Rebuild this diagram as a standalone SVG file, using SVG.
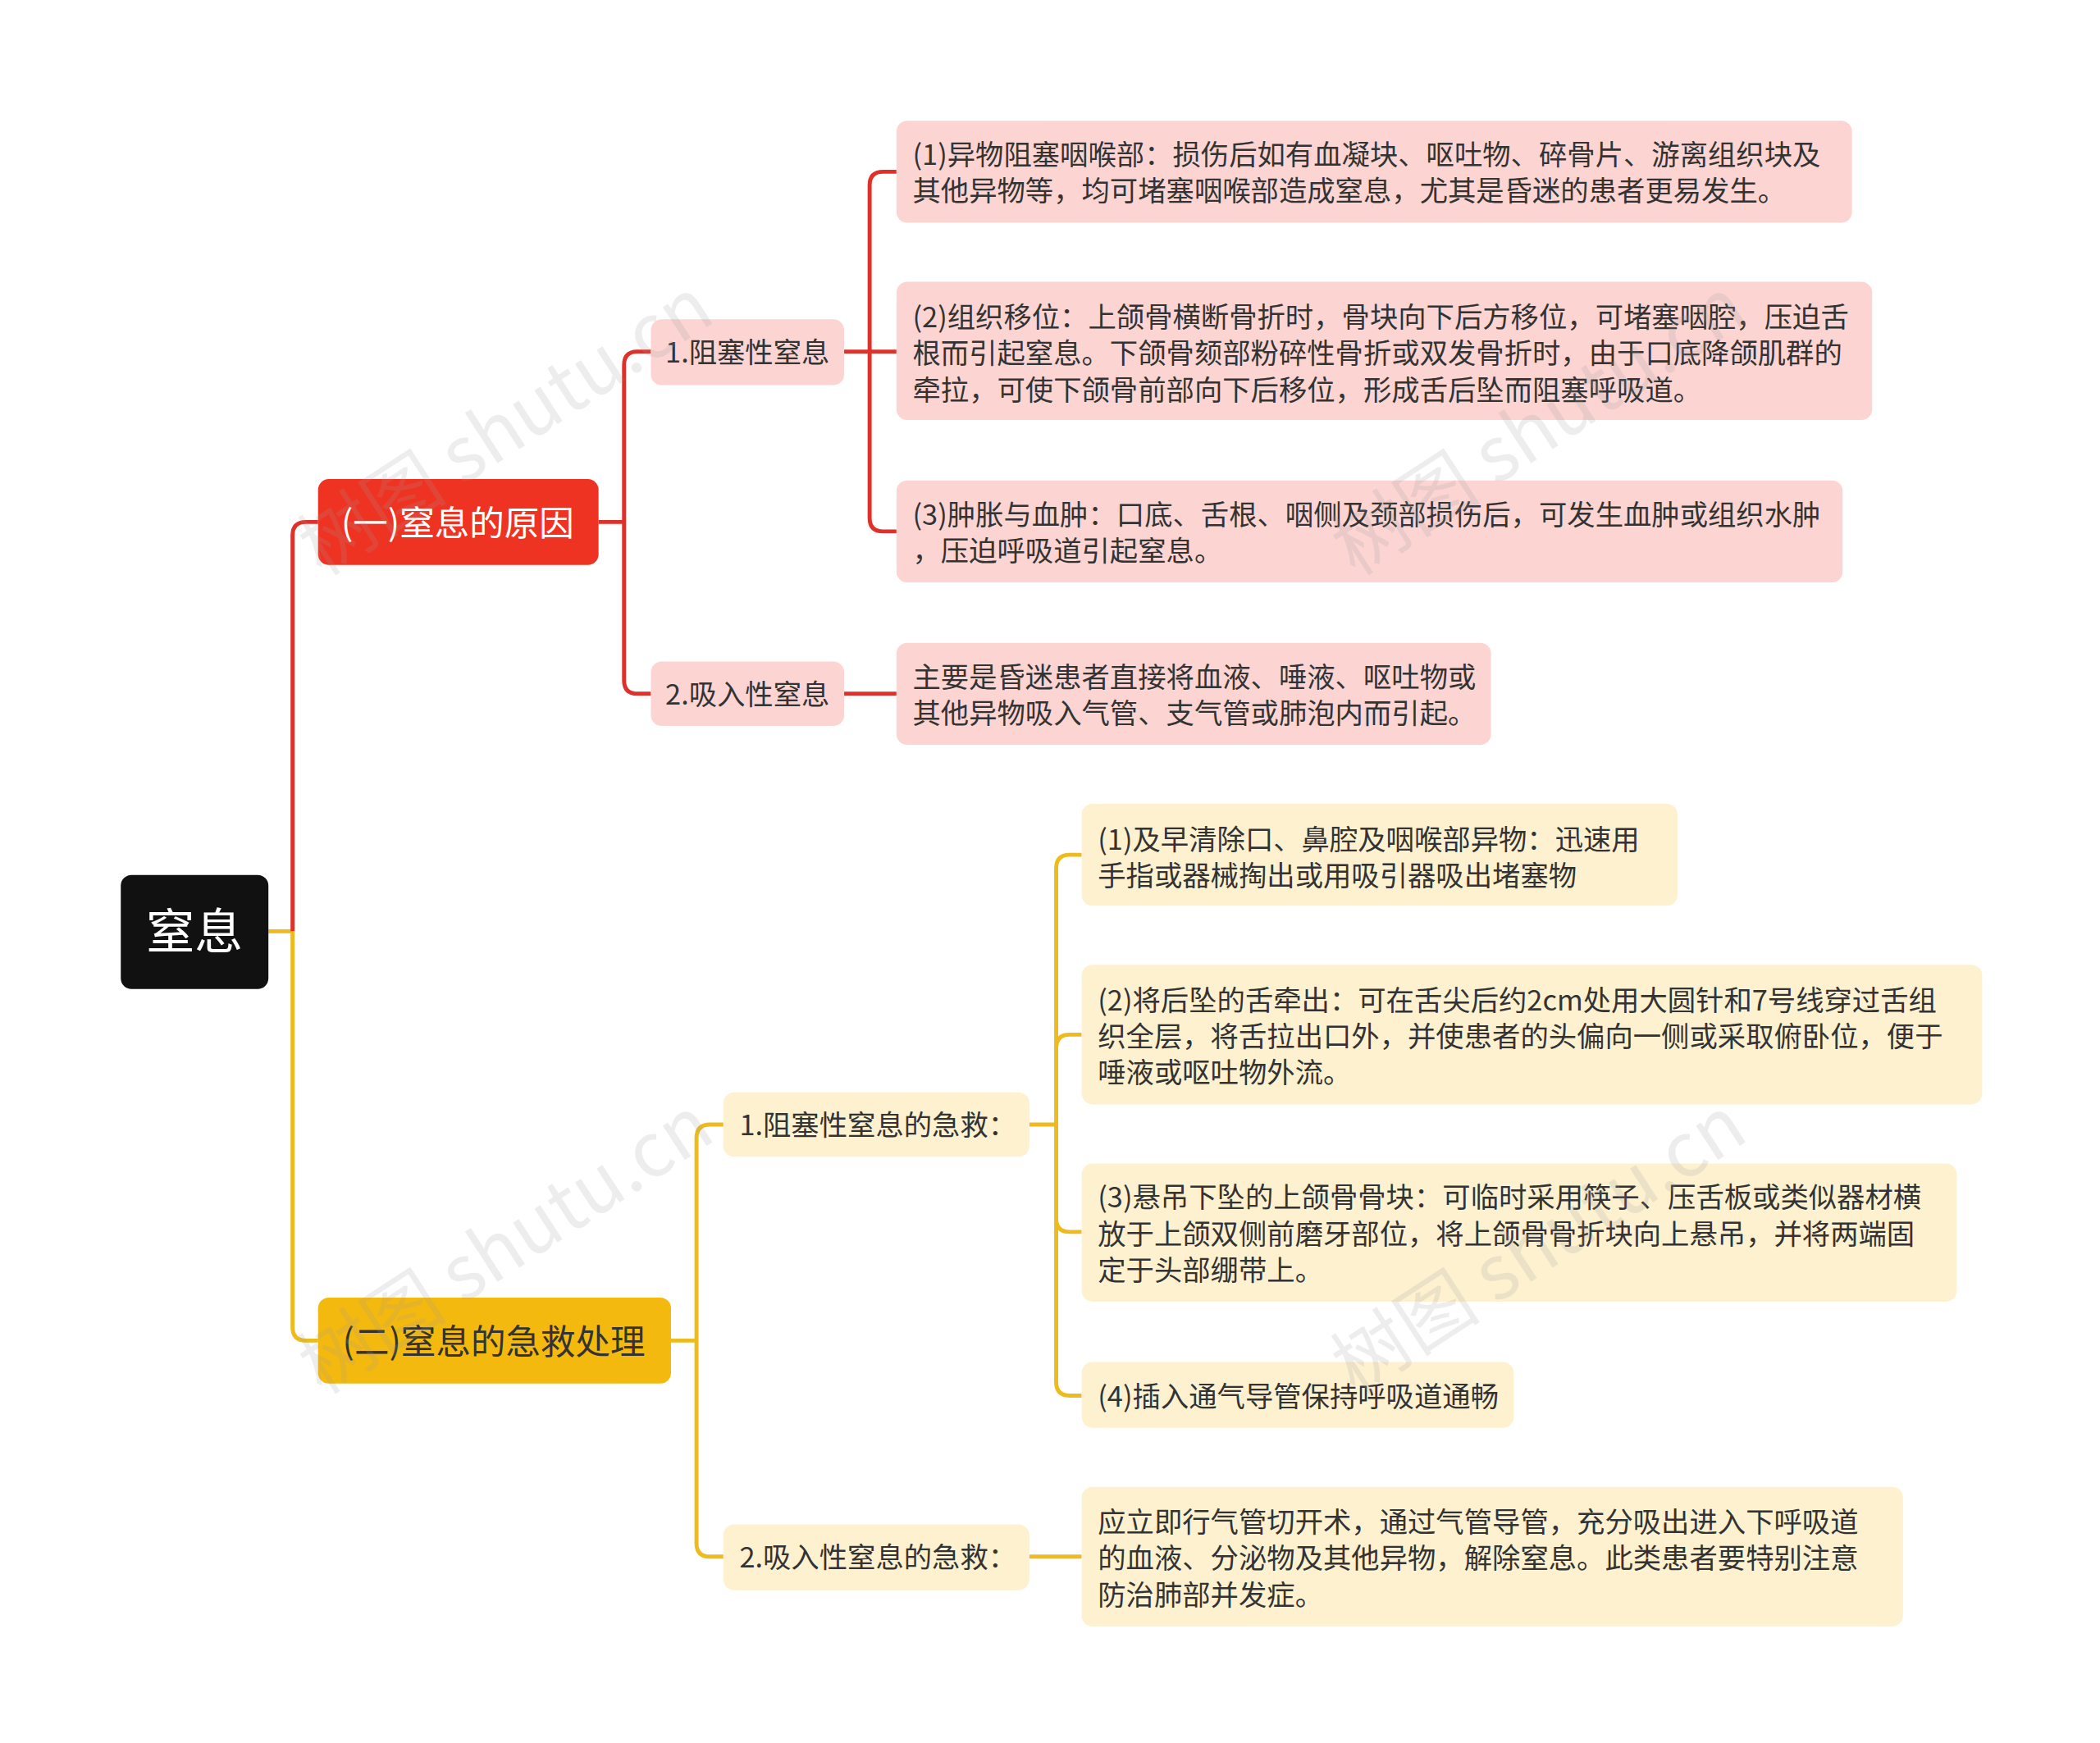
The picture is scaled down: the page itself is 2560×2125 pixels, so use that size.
<svg xmlns="http://www.w3.org/2000/svg" width="2560" height="2125" viewBox="0 0 2560 2125">
<style>
text{font-family:"Noto Sans CJK SC","Noto Sans",sans-serif;}
.t{font-size:21px;fill:#333;}
.r{fill:none;stroke:#e0302a;stroke-width:3;}
.y{fill:none;stroke:#eebb1e;stroke-width:3;}
.pk{fill:#fcd5d2;}
.cr{fill:#fdf1d0;}
.wm{font-size:56px;fill:#999;fill-opacity:0.18;}
</style>
<rect width="2560" height="2125" fill="#fff"/>
<g transform="scale(1.636)">
<g id="connectors">
<path class="y" d="M200,694 H218"/>
<path class="r" d="M218,694 V399 Q218,389 228,389 H237"/>
<path class="y" d="M218,694 V989 Q218,999 228,999 H237"/>
<path class="r" d="M446,389 H465 M465,389 V272 Q465,262 475,262 H485 M465,389 V507 Q465,517 475,517 H485"/>
<path class="r" d="M629,262 H648 M648,262 V138 Q648,128 658,128 H668 M648,262 H668 M648,262 V386 Q648,396 658,396 H668"/>
<path class="r" d="M629,517 H668"/>
<path class="y" d="M500,999 H519 M519,999 V848 Q519,838 529,838 H539 M519,999 V1150 Q519,1160 529,1160 H539"/>
<path class="y" d="M767,838 H787 M787,838 V647 Q787,637 797,637 H806 M787,838 V781 Q787,771 797,771 H806 M787,838 V908 Q787,918 797,918 H806 M787,838 V1030 Q787,1040 797,1040 H806"/>
<path class="y" d="M767,1160 H806"/>
</g>
<g id="root"><rect x="90" y="652" width="110" height="85" rx="8" fill="#111"/><text x="145" y="707" font-size="36" fill="#fff" text-anchor="middle">窒息</text></g>
<g id="a"><rect x="237" y="357" width="209" height="64" rx="8" fill="#ef3322"/><text x="341" y="399" font-size="26" fill="#fff" text-anchor="middle">(一)窒息的原因</text></g>
<g id="b"><rect x="237" y="967" width="263" height="64" rx="8" fill="#f4b90f"/><text x="368" y="1009" font-size="26" fill="#333" text-anchor="middle">(二)窒息的急救处理</text></g>
<g id="a1"><rect class="pk" x="485" y="238" width="144" height="49" rx="8"/><text class="t" x="557" y="270" text-anchor="middle">1.阻塞性窒息</text></g>
<g id="a2"><rect class="pk" x="485" y="493" width="144" height="48" rx="8"/><text class="t" x="557" y="525" text-anchor="middle">2.吸入性窒息</text></g>
<g id="a1l1"><rect class="pk" x="668" y="90" width="712" height="76" rx="8"/><text class="t" x="680" y="123">(1)异物阻塞咽喉部：损伤后如有血凝块、呕吐物、碎骨片、游离组织块及</text><text class="t" x="680" y="150">其他异物等，均可堵塞咽喉部造成窒息，尤其是昏迷的患者更易发生。</text></g>
<g id="a1l2"><rect class="pk" x="668" y="210" width="727" height="103" rx="8"/><text class="t" x="680" y="244">(2)组织移位：上颌骨横断骨折时，骨块向下后方移位，可堵塞咽腔，压迫舌</text><text class="t" x="680" y="271">根而引起窒息。下颌骨颏部粉碎性骨折或双发骨折时，由于口底降颌肌群的</text><text class="t" x="680" y="298">牵拉，可使下颌骨前部向下后移位，形成舌后坠而阻塞呼吸道。</text></g>
<g id="a1l3"><rect class="pk" x="668" y="358" width="705" height="76" rx="8"/><text class="t" x="680" y="391">(3)肿胀与血肿：口底、舌根、咽侧及颈部损伤后，可发生血肿或组织水肿</text><text class="t" x="680" y="418">，压迫呼吸道引起窒息。</text></g>
<g id="a2l1"><rect class="pk" x="668" y="479" width="443" height="76" rx="8"/><text class="t" x="680" y="512">主要是昏迷患者直接将血液、唾液、呕吐物或</text><text class="t" x="680" y="539">其他异物吸入气管、支气管或肺泡内而引起。</text></g>
<g id="b1"><rect class="cr" x="539" y="814" width="228" height="48" rx="8"/><text class="t" x="551" y="846">1.阻塞性窒息的急救：</text></g>
<g id="b2"><rect class="cr" x="539" y="1136" width="228" height="49" rx="8"/><text class="t" x="551" y="1168">2.吸入性窒息的急救：</text></g>
<g id="b1l1"><rect class="cr" x="806" y="599" width="444" height="76" rx="8"/><text class="t" x="818" y="633">(1)及早清除口、鼻腔及咽喉部异物：迅速用</text><text class="t" x="818" y="660">手指或器械掏出或用吸引器吸出堵塞物</text></g>
<g id="b1l2"><rect class="cr" x="806" y="719" width="671" height="104" rx="8"/><text class="t" x="818" y="753">(2)将后坠的舌牵出：可在舌尖后约2cm处用大圆针和7号线穿过舌组</text><text class="t" x="818" y="780">织全层，将舌拉出口外，并使患者的头偏向一侧或采取俯卧位，便于</text><text class="t" x="818" y="807">唾液或呕吐物外流。</text></g>
<g id="b1l3"><rect class="cr" x="806" y="867" width="652" height="103" rx="8"/><text class="t" x="818" y="900">(3)悬吊下坠的上颌骨骨块：可临时采用筷子、压舌板或类似器材横</text><text class="t" x="818" y="927">放于上颌双侧前磨牙部位，将上颌骨骨折块向上悬吊，并将两端固</text><text class="t" x="818" y="954">定于头部绷带上。</text></g>
<g id="b1l4"><rect class="cr" x="806" y="1015" width="322" height="49" rx="8"/><text class="t" x="818" y="1048">(4)插入通气导管保持呼吸道通畅</text></g>
<g id="b2l1"><rect class="cr" x="806" y="1108" width="612" height="104" rx="8"/><text class="t" x="818" y="1142">应立即行气管切开术，通过气管导管，充分吸出进入下呼吸道</text><text class="t" x="818" y="1169">的血液、分泌物及其他异物，解除窒息。此类患者要特别注意</text><text class="t" x="818" y="1196">防治肺部并发症。</text></g>
<g id="watermarks">
<text class="wm" transform="translate(240,430) rotate(-33)">树图 shutu.cn</text>
<text class="wm" transform="translate(1010,430) rotate(-33)">树图 shutu.cn</text>
<text class="wm" transform="translate(240,1040) rotate(-33)">树图 shutu.cn</text>
<text class="wm" transform="translate(1010,1040) rotate(-33)">树图 shutu.cn</text>
</g>
</g>
</svg>
